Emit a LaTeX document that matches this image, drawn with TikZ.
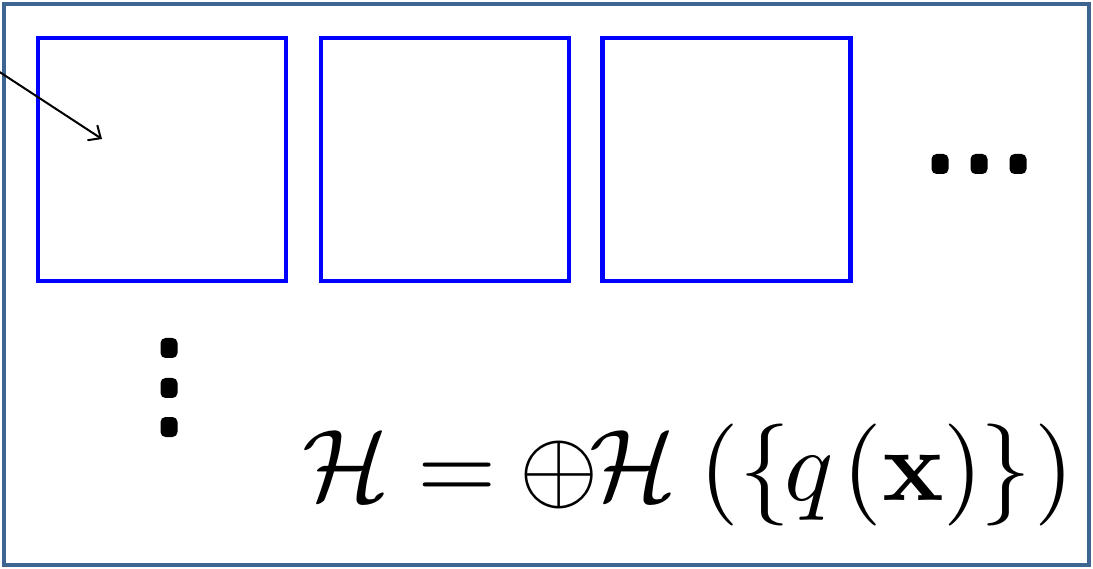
\documentclass[tikz,border=0pt]{standalone}
\usepackage{amsmath,amssymb}
\usepackage{graphicx}
\usetikzlibrary{arrows.meta}
\definecolor{framecol}{HTML}{3E6492}
\begin{document}
\begin{tikzpicture}[x=1pt,y=-1pt,
  sq/.style={draw=blue,line width=4.8pt,minimum width=248pt,minimum height=243pt,inner sep=0pt},
  dotbox/.style={fill=black,rounded corners=5pt,minimum width=17pt,minimum height=20pt,inner sep=0pt}]
\useasboundingbox (0,0) rectangle (1093,569);
\node[draw=framecol,line width=3.5pt,minimum width=1085pt,minimum height=561pt,inner sep=0pt] (frame) at (546.5,284.5) {};
\node[sq] (s1) at (162,159.5) {};
\node[sq] (s2) at (445,159.5) {};
\node[sq] (s3) at (726.5,159.5) {};
\coordinate (a0) at (-2,71);
\coordinate (a1) at (102,139);
\draw[line width=2pt,-{Straight Barb[length=10pt,width=18pt]}] (a0) -- (a1);
\node[dotbox] (h1) at (940,164) {};
\node[dotbox] (h2) at (979,164) {};
\node[dotbox] (h3) at (1018,164) {};
\node[dotbox] (v1) at (169,348) {};
\node[dotbox] (v2) at (169,388) {};
\node[dotbox] (v3) at (169,427) {};
\node[anchor=base west,inner sep=0pt] (eq) at (302,500) {\scalebox{10.2}{$\mathcal{H}\mkern4.9mu\mathord{=}\mkern4mu\mathord{\oplus}\mkern-1.5mu\mathcal{H}\mkern4mu(\{\mkern-1mu q\mkern1.5mu(\mathbf{x})\mkern-0.5mu\}\mkern0.5mu)$}};
\end{tikzpicture}
\end{document}
